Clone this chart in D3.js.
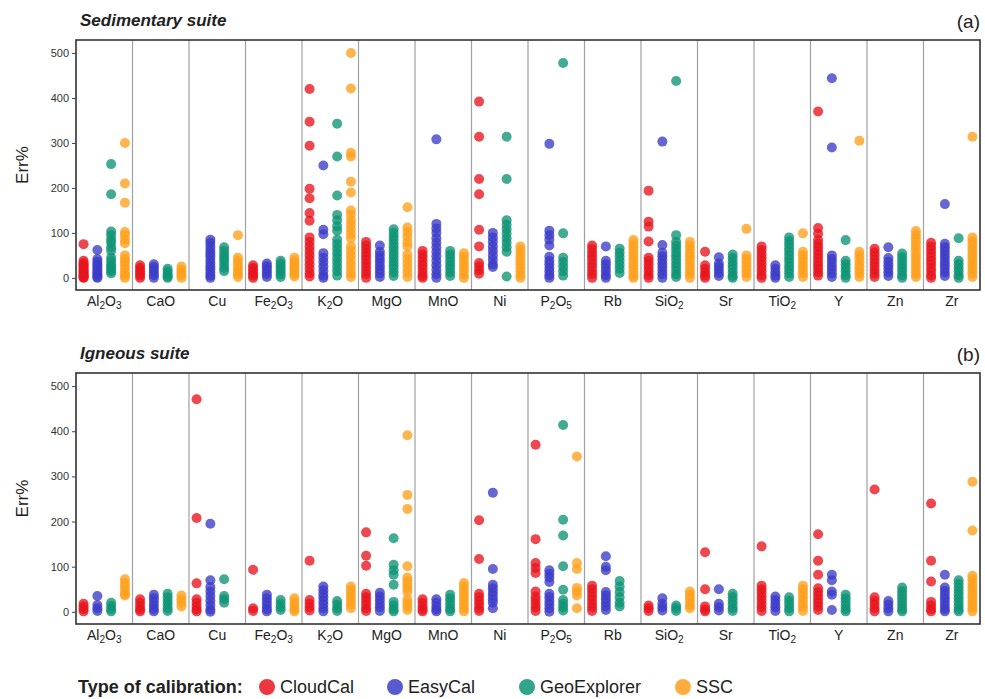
<!DOCTYPE html>
<html>
<head>
<meta charset="utf-8">
<script src="https://cdn.jsdelivr.net/npm/d3@7"></script>
<style>
  body { margin: 0; background: #fff; }
  svg { display: block; font-family: "Liberation Sans", Arial, sans-serif; }
</style>
</head>
<body>
<div id="chart"></div>
<script>
// elements (facets) and calibration types
const elements = ["Al2O3", "CaO", "Cu", "Fe2O3", "K2O", "MgO", "MnO", "Ni", "P2O5", "Rb", "SiO2", "Sr", "TiO2", "Y", "Zn", "Zr"];
const methods = ["CloudCal", "EasyCal", "GeoExplorer", "SSC"];
const colors = ["#e8141e", "#3c3cc8", "#0e9474", "#ffa01c"];
const yTicks = [0, 100, 200, 300, 400, 500];

// Sedimentary suite, Err% per element (same order as elements)
const sedCloudCal = [
  [75, 38, 33, 30, 27, 24, 20, 17, 14, 11, 8, 5, 3, 1, 0],
  [28, 22, 16, 10, 5, 0],
  [],
  [28, 22, 16, 10, 5, 0],
  [420, 347, 294, 198, 177, 144, 127, 90, 80, 70, 60, 50, 40, 30, 20, 10, 3],
  [80, 72, 64, 56, 48, 40, 32, 24, 16, 8, 0],
  [60, 52, 44, 36, 28, 20, 12, 4, 0],
  [392, 314, 220, 186, 107, 70, 33, 25, 17, 9],
  [],
  [72, 64, 56, 48, 40, 32, 24, 16, 8, 0],
  [194, 125, 114, 81, 45, 38, 30, 22, 14, 6, 0],
  [58, 28, 20, 12, 5, 0],
  [70, 62, 54, 46, 38, 30, 22, 14, 6, 0],
  [370, 111, 98, 84, 76, 68, 60, 52, 44, 36, 28, 20, 12, 5],
  [65, 57, 49, 41, 33, 25, 17, 9, 2],
  [78, 70, 62, 54, 46, 38, 30, 22, 14, 6, 0]
];
const sedEasyCal = [
  [62, 42, 36, 30, 25, 20, 15, 10, 6, 2, 0],
  [30, 24, 18, 12, 6, 0],
  [85, 78, 70, 62, 55, 48, 40, 33, 26, 19, 12, 5, 0],
  [32, 26, 20, 14, 8, 2],
  [250, 107, 97, 55, 45, 35, 25, 15, 5, 0],
  [72, 58, 50, 42, 34, 26, 18, 10, 2],
  [308, 120, 110, 100, 88, 78, 68, 58, 48, 38, 28, 18, 8, 0],
  [100, 90, 80, 70, 60, 50, 40, 30, 24],
  [298, 105, 95, 85, 72, 47, 38, 30, 22, 14, 6, 0],
  [70, 38, 30, 22, 14, 6, 0],
  [303, 73, 56, 48, 40, 32, 24, 16, 8, 0],
  [46, 32, 25, 18, 11, 4],
  [28, 20, 12, 5, 0],
  [444, 290, 50, 42, 34, 26, 18, 10, 2],
  [68, 44, 36, 28, 20, 12, 4],
  [164, 76, 68, 60, 52, 44, 36, 28, 20, 12, 4]
];
const sedGeoExplorer = [
  [253, 186, 103, 95, 85, 78, 68, 60, 45, 38, 30, 25, 20, 15, 10],
  [20, 14, 8, 3, 0],
  [68, 60, 52, 45, 38, 30, 22, 15],
  [38, 32, 26, 20, 14, 8, 2],
  [343, 270, 183, 140, 128, 115, 105, 85, 75, 65, 55, 45, 35, 25, 15, 5],
  [108, 100, 92, 84, 76, 68, 60, 52, 44, 36, 28, 20, 12, 4],
  [60, 52, 44, 36, 28, 20, 12, 4],
  [314, 220, 128, 118, 108, 98, 88, 78, 68, 58, 3],
  [478, 99, 45, 35, 25, 15, 5],
  [65, 56, 47, 38, 29, 20, 11],
  [438, 95, 80, 72, 64, 56, 48, 40, 32, 24, 16, 8, 2],
  [52, 44, 36, 28, 20, 12, 4, 0],
  [90, 82, 74, 66, 58, 50, 42, 34, 26, 18, 10, 2],
  [84, 38, 30, 22, 14, 6, 0],
  [54, 46, 38, 30, 22, 14, 6, 0],
  [88, 38, 30, 22, 14, 6, 0]
];
const sedSSC = [
  [300, 210, 167, 102, 95, 85, 77, 50, 42, 35, 28, 20, 12, 5, 0],
  [25, 18, 12, 6, 0],
  [95, 45, 38, 30, 22, 15, 8, 2],
  [45, 38, 32, 26, 20, 14, 8, 3],
  [500, 421, 278, 270, 214, 190, 150, 140, 128, 118, 108, 98, 88, 70, 60, 50, 40, 30, 20, 10, 2],
  [157, 112, 102, 92, 80, 70, 52, 42, 32, 22, 12, 2],
  [55, 47, 39, 31, 23, 15, 7, 0],
  [70, 62, 54, 46, 38, 30, 22, 14, 6, 0],
  [],
  [84, 76, 68, 60, 52, 44, 36, 28, 20, 12, 4, 0],
  [80, 72, 64, 56, 48, 40, 32, 24, 16, 8, 0],
  [109, 50, 42, 34, 26, 18, 10, 2],
  [99, 58, 50, 42, 34, 26, 18, 10, 2],
  [305, 58, 50, 42, 34, 26, 18, 10, 2],
  [104, 96, 88, 80, 72, 64, 56, 48, 40, 32, 24, 16, 8, 2],
  [314, 90, 82, 74, 66, 58, 50, 42, 34, 26, 18, 10, 2]
];

// Igneous suite
const ignCloudCal = [
  [18, 12, 6, 1],
  [28, 20, 12, 5, 1],
  [471, 208, 63, 28, 20, 12, 5, 1],
  [93, 8, 2],
  [113, 26, 18, 10, 3],
  [176, 124, 102, 40, 32, 24, 16, 8, 2],
  [28, 20, 12, 5, 1],
  [203, 117, 40, 32, 24, 16, 8, 2],
  [370, 161, 108, 97, 86, 45, 34, 26, 18, 10, 2],
  [58, 50, 42, 34, 26, 18, 10, 2],
  [14, 8, 2],
  [132, 50, 12, 5, 1],
  [145, 58, 50, 42, 34, 26, 18, 10, 2],
  [172, 113, 82, 52, 44, 36, 28, 20, 12, 4],
  [271, 32, 24, 16, 8, 1],
  [240, 113, 67, 22, 14, 6, 1]
];
const ignEasyCal = [
  [35, 15, 8, 2],
  [38, 30, 22, 14, 6, 1],
  [195, 70, 55, 45, 35, 25, 15, 5, 0],
  [38, 30, 22, 14, 6, 1],
  [56, 48, 40, 32, 24, 16, 8, 1],
  [42, 34, 26, 18, 10, 2],
  [28, 20, 12, 5, 1],
  [264, 95, 60, 52, 44, 36, 28, 20, 8],
  [92, 84, 76, 66, 40, 32, 24, 16, 8, 0],
  [123, 100, 92, 44, 36, 28, 20, 12, 4],
  [30, 18, 10, 3],
  [50, 18, 10, 3],
  [34, 26, 18, 10, 2],
  [82, 70, 45, 38, 4],
  [24, 16, 8, 1],
  [82, 54, 46, 38, 30, 22, 14, 6, 1]
];
const ignGeoExplorer = [
  [20, 13, 6, 1],
  [40, 32, 24, 16, 8, 2],
  [72, 35, 28, 20],
  [26, 18, 10, 4],
  [24, 16, 8, 2],
  [163, 104, 92, 82, 60, 22, 14, 6, 1],
  [38, 30, 22, 14, 6, 1],
  [],
  [414, 204, 169, 101, 49, 26, 18, 10, 3],
  [68, 56, 44, 32, 20, 12],
  [14, 8, 2],
  [40, 32, 24, 16, 8, 2],
  [32, 24, 16, 8, 1],
  [38, 30, 22, 14, 6, 1],
  [54, 46, 38, 30, 22, 14, 6, 1],
  [70, 62, 54, 46, 38, 30, 22, 14, 6, 1]
];
const ignSSC = [
  [72, 64, 56, 48, 40, 36],
  [36, 28, 20, 12],
  [],
  [30, 22, 14, 6, 1],
  [56, 48, 40, 32, 24, 16, 8],
  [391, 259, 228, 101, 76, 68, 60, 52, 44, 28, 20, 12, 4],
  [64, 56, 48, 40, 32, 24, 16, 8, 1],
  [],
  [344, 108, 95, 53, 45, 36, 8],
  [],
  [45, 38, 30, 22, 14, 8],
  [],
  [58, 50, 42, 34, 26, 18, 10, 2],
  [],
  [],
  [288, 180, 80, 72, 64, 56, 48, 40, 32, 24, 16, 8, 1]
];

const panels = [
  { title: "Sedimentary suite", tag: "(a)", top: 40, bottom: 290, series: [sedCloudCal, sedEasyCal, sedGeoExplorer, sedSSC] },
  { title: "Igneous suite", tag: "(b)", top: 373, bottom: 624, series: [ignCloudCal, ignEasyCal, ignGeoExplorer, ignSSC] }
];

const width = 985, height = 699;
const left = 76, right = 980;

const svg = d3.select("#chart").append("svg")
  .attr("width", width)
  .attr("height", height);

const x = d3.scaleBand().domain(elements).range([left, right]).padding(0);
const xInner = d3.scalePoint().domain(methods).range([0, x.bandwidth()]).padding(0.55);

// "Al2O3" -> text with subscript digits
function chemLabel(sel, name) {
  name.split(/(\d+)/).filter(s => s.length).forEach(function (part) {
    const t = sel.append("tspan").text(part);
    if (/^\d+$/.test(part)) {
      t.attr("font-size", "0.72em").attr("baseline-shift", "-30%");
    }
  });
}

panels.forEach(function (p) {
  const y = d3.scaleLinear().domain([-27, 529]).range([p.bottom, p.top]);
  const g = svg.append("g");

  // facet separators
  g.selectAll("line.sep")
    .data(elements.slice(1))
    .join("line")
    .attr("x1", d => x(d)).attr("x2", d => x(d))
    .attr("y1", p.top).attr("y2", p.bottom)
    .attr("stroke", "#a0a0a0")
    .attr("stroke-width", 1.2);

  // dots
  methods.forEach(function (m, mi) {
    const data = [];
    p.series[mi].forEach(function (vals, ei) {
      vals.forEach(v => data.push({ el: elements[ei], v: v }));
    });
    g.selectAll("circle.m" + mi)
      .data(data)
      .join("circle")
      .attr("cx", d => x(d.el) + xInner(m))
      .attr("cy", d => y(d.v))
      .attr("r", 5)
      .attr("fill", colors[mi])
      .attr("fill-opacity", 0.78);
  });

  // frame
  g.append("rect")
    .attr("x", left).attr("y", p.top)
    .attr("width", right - left).attr("height", p.bottom - p.top)
    .attr("fill", "none")
    .attr("stroke", "#333")
    .attr("stroke-width", 1.6);

  // y axis
  const ax = g.append("g")
    .attr("transform", `translate(${left},0)`)
    .call(d3.axisLeft(y).tickValues(yTicks).tickSize(4).tickPadding(3));
  ax.select(".domain").remove();
  ax.selectAll(".tick line").attr("stroke", "#444");
  ax.selectAll(".tick text").attr("font-size", 11).attr("fill", "#333");

  g.append("text")
    .attr("transform", `translate(28,${(p.top + p.bottom) / 2}) rotate(-90)`)
    .attr("text-anchor", "middle")
    .attr("font-size", 17)
    .attr("fill", "#222")
    .text("Err%");

  // x labels
  g.selectAll("text.xl")
    .data(elements)
    .join("text")
    .attr("x", d => x(d) + x.bandwidth() / 2)
    .attr("y", p.bottom + 16)
    .attr("text-anchor", "middle")
    .attr("font-size", 14)
    .attr("fill", "#222")
    .each(function (d) { chemLabel(d3.select(this), d); });

  // titles
  g.append("text")
    .attr("x", 80).attr("y", p.top - 14)
    .attr("font-size", 17)
    .attr("font-weight", "bold")
    .attr("font-style", "italic")
    .attr("fill", "#222")
    .text(p.title);
  g.append("text")
    .attr("x", right).attr("y", p.top - 12)
    .attr("text-anchor", "end")
    .attr("font-size", 19)
    .attr("fill", "#222")
    .text(p.tag);
});

// legend
const legY = 687;
const legend = svg.append("g")
  .attr("font-size", 18)
  .attr("fill", "#222");
legend.append("text")
  .attr("x", 78).attr("y", legY + 6)
  .attr("font-weight", "bold")
  .text("Type of calibration:");
const legX = [267, 395, 527, 683];
methods.forEach(function (m, i) {
  legend.append("circle")
    .attr("cx", legX[i]).attr("cy", legY)
    .attr("r", 8)
    .attr("fill", colors[i])
    .attr("fill-opacity", 0.85);
  legend.append("text")
    .attr("x", legX[i] + 13).attr("y", legY + 6)
    .text(m);
});
</script>
</body>
</html>
